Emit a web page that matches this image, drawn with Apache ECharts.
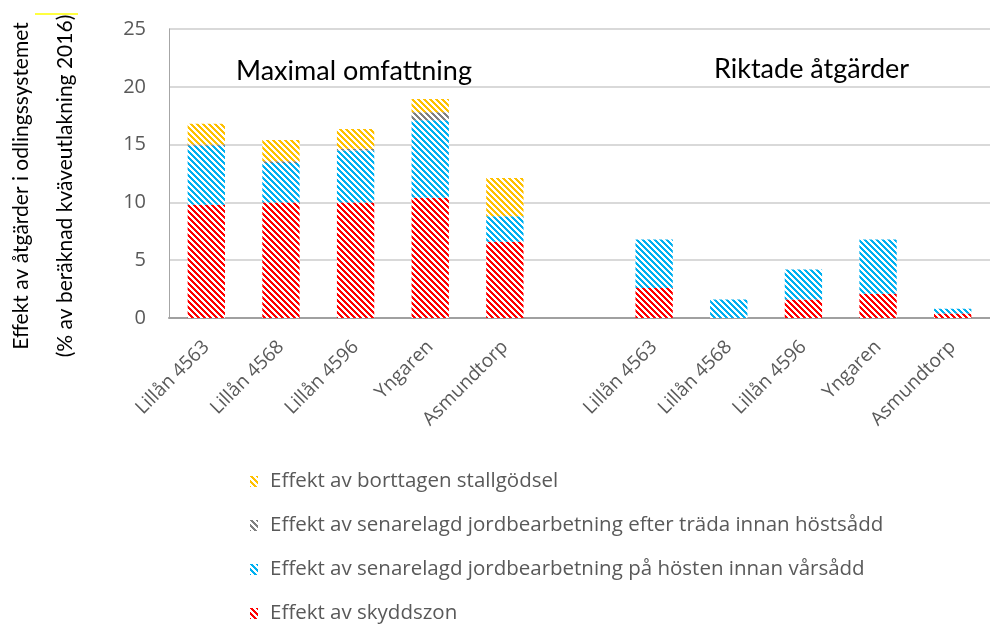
<!DOCTYPE html>
<html>
<head>
<meta charset="utf-8">
<script src="https://cdn.jsdelivr.net/npm/echarts@6/dist/echarts.min.js"></script>
<style>
  html, body { margin: 0; padding: 0; background: #fff; }
  #chart { width: 990px; height: 626px; }
</style>
</head>
<body>
<div id="chart"></div>
<script>
// Catchment areas: first group = maximal scope, second group = targeted measures
const categories = ['Lillån 4563', 'Lillån 4568', 'Lillån 4596', 'Yngaren', 'Asmundtorp', '',
                    'Lillån 4563', 'Lillån 4568', 'Lillån 4596', 'Yngaren', 'Asmundtorp'];

// Effect per measure (% of calculated nitrogen leaching 2016)
const skyddszon      = [9.8, 10.0, 10.0, 10.4, 6.6, null, 2.6, 0,   1.6, 2.1, 0.4];
const varsadd        = [5.1, 3.4,  4.5,  6.7,  2.2, null, 4.2, 1.6, 2.6, 4.7, 0.4];
const hostsadd       = [0.1, 0.15, 0.15, 0.7,  0,   null, 0,   0,   0,   0,   0];
const stallgodsel    = [1.8, 1.85, 1.7,  1.15, 3.3, null, 0,   0,   0,   0,   0];

const seriesNames = [
  'Effekt av skyddszon',
  'Effekt av senarelagd jordbearbetning på hösten innan vårsådd',
  'Effekt av senarelagd jordbearbetning efter träda innan höstsådd',
  'Effekt av borttagen stallgödsel'
];
const yTicks = [0, 5, 10, 15, 20, 25];

const SANS = '"Open Sans", sans-serif';
const TITLE_FONT = 'Lato, sans-serif';

// Diagonal hatch fill (stripes running down to the right)
function hatch(color) {
  const size = 6;
  const c = document.createElement('canvas');
  c.width = size; c.height = size;
  const g = c.getContext('2d');
  g.fillStyle = '#ffffff';
  g.fillRect(0, 0, size, size);
  g.fillStyle = color;
  for (let y = 0; y < size; y++) {
    for (let x = 0; x < size; x++) {
      if ((((x - y) % size) + size) % size < 3) g.fillRect(x, y, 1, 1);
    }
  }
  return { image: c, repeat: 'repeat' };
}

const colors = ['#FF0000', '#00B0F0', '#808080', '#FFC000'];
const values = [skyddszon, varsadd, hostsadd, stallgodsel];

const chart = echarts.init(document.getElementById('chart'), null, { renderer: 'canvas' });

const series = seriesNames.map((name, i) => ({
  name: name,
  type: 'bar',
  stack: 'total',
  barCategoryGap: '50%',
  data: values[i],
  itemStyle: { color: hatch(colors[i]) },
  emphasis: { disabled: true }
}));

chart.setOption({
  animation: false,
  backgroundColor: '#ffffff',
  textStyle: { fontFamily: SANS },
  grid: { left: 169, top: 29, height: 289, right: -12, containLabel: false },
  xAxis: {
    type: 'category',
    data: categories,
    axisTick: { show: false },
    axisLine: { lineStyle: { color: '#a0a0a0', width: 2 } },
    axisLabel: {
      interval: 0,
      rotate: 45,
      margin: 26,
      color: '#595959',
      fontSize: 19,
      fontFamily: SANS
    }
  },
  yAxis: {
    type: 'value',
    min: yTicks[0],
    max: yTicks[yTicks.length - 1],
    interval: 5,
    axisLine: { show: true, lineStyle: { color: '#a6a6a6', width: 1 } },
    axisTick: { show: false },
    splitLine: { lineStyle: { color: '#d9d9d9', width: 2 } },
    axisLabel: { color: '#595959', fontSize: 20, margin: 23, fontFamily: SANS }
  },
  legend: {
    orient: 'vertical',
    left: 250,
    top: 471,
    height: 220,
    padding: 0,
    itemWidth: 8,
    itemHeight: 11,
    itemGap: 23,
    icon: 'rect',
    data: seriesNames.slice().reverse(),
    textStyle: { color: '#595959', fontSize: 20.5, fontFamily: SANS, lineHeight: 20, padding: [0, 0, 0, 7] },
    selectedMode: false
  },
  graphic: [
    {
      type: 'text', x: 21, y: 186, rotation: Math.PI / 2,
      style: { text: 'Effekt av åtgärder i odlingssystemet', fill: '#000', fontSize: 21, fontFamily: TITLE_FONT,
               textAlign: 'center', textVerticalAlign: 'middle' }
    },
    {
      type: 'text', x: 65, y: 186, rotation: Math.PI / 2,
      style: { text: '(% av beräknad kväveutlakning 2016)', fill: '#000', fontSize: 21, fontFamily: TITLE_FONT,
               textAlign: 'center', textVerticalAlign: 'middle' }
    },
    {
      type: 'line', shape: { x1: 35, y1: 14, x2: 78, y2: 14 },
      style: { stroke: '#ffff00', lineWidth: 1.5 }
    },
    {
      type: 'text', x: 236, y: 71,
      style: { text: 'Maximal omfattning', fill: '#000', fontSize: 27, fontFamily: TITLE_FONT,
               textAlign: 'left', textVerticalAlign: 'middle' }
    },
    {
      type: 'text', x: 714, y: 69,
      style: { text: 'Riktade åtgärder', fill: '#000', fontSize: 27, fontFamily: TITLE_FONT,
               textAlign: 'left', textVerticalAlign: 'middle' }
    }
  ],
  series: series
});
</script>
</body>
</html>
